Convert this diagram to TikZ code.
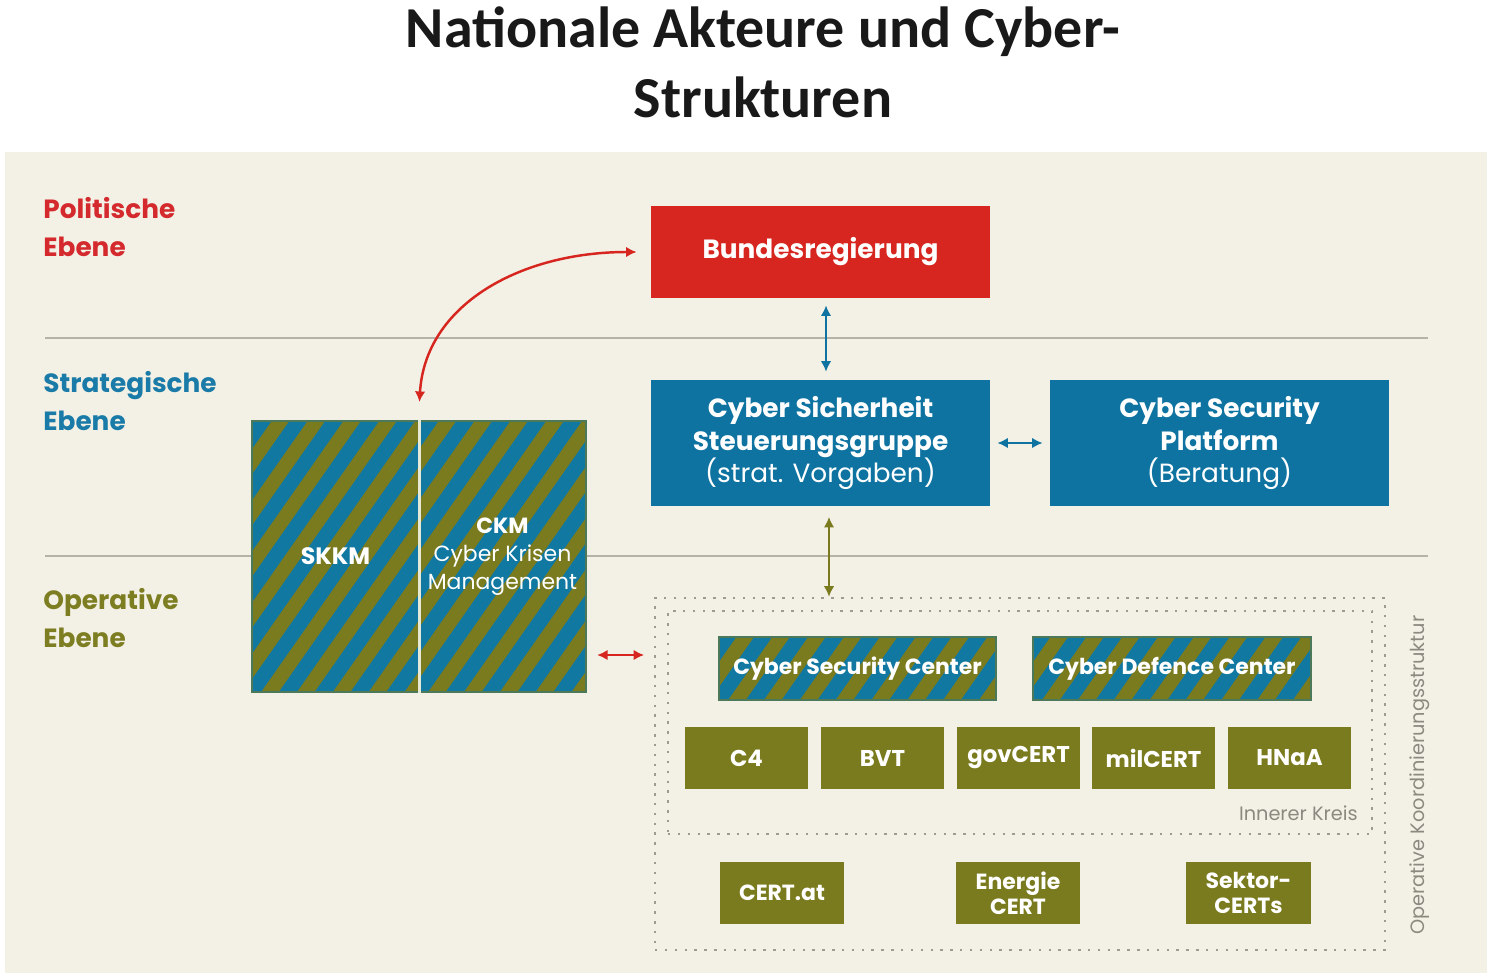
\documentclass[tikz,border=0pt]{standalone}
\usepackage{fontspec}
\setmainfont{Poppins}
\newfontfamily\titlefont{Carlito}
\usetikzlibrary{arrows.meta,calc}
\definecolor{bg}{HTML}{F3F1E5}
\definecolor{cred}{HTML}{D6261F}
\definecolor{cblue}{HTML}{0E73A0}
\definecolor{colive}{HTML}{7A7A1E}
\definecolor{hblue}{HTML}{1178A2}
\definecolor{lgray}{HTML}{B5B2A8}
\definecolor{dgray}{HTML}{8C8980}
\definecolor{dotc}{HTML}{9E9B91}
\definecolor{lred}{HTML}{D42A2E}
\definecolor{lblue}{HTML}{1A7BA8}
\definecolor{lolive}{HTML}{7D7D22}
\definecolor{divc}{HTML}{E6E9D6}
\newcommand\myfs[2]{\fontsize{#1}{#2}\selectfont}
\newcommand\pbox[7]{\node[#1, minimum width={(#5-#3)*0.02cm}, minimum height={(#6-#4)*0.02cm}] (#2) at ({(#3+#5)/2},{(#4+#6)/2}) {#7};}
\begin{document}
\begin{tikzpicture}[x=0.02cm,y=-0.02cm,
  titlet/.style={anchor=base, inner sep=0pt, text=black!90, font=\titlefont\bfseries\myfs{33}{40}},
  lvl/.style={anchor=west, inner sep=0pt, align=left, font=\bfseries\myfs{15}{21.5}},
  box/.style={inner sep=0pt, text=white, align=center},
  hatch/.style={box, fill=colive, draw=colive!55!hblue, line width=0.7pt, path picture={
     \foreach \k in {-10,...,11}{
       \draw[hblue, line width=8.4pt] ($(path picture bounding box.south west)+(\k*20.4pt,0)+(235:30pt)$) -- ++(55:320pt);
     }}},
  dotbox/.style={inner sep=0pt, draw=dotc, line width=1.4pt, dash pattern=on 1.4pt off 4.2pt},
  arr/.style={line width=1.4pt, arrows={Latex[length=6pt,width=6pt]-Latex[length=6pt,width=6pt]}}
]
\useasboundingbox (0,0) rectangle (1487,973);
\fill[white] (0,0) rectangle (1487,973);
\fill[bg] (5,152) rectangle (1487,973);

% title
\node[titlet] (t1) at (763,48) {Nationale Akteure und Cyber-};
\node[titlet] (t2) at (763,118) {Strukturen};

% level lines
\draw[lgray, line width=1.4pt] (45,338) -- (1428,338);
\draw[lgray, line width=1.4pt] (45,556) -- (1428,556);

% level labels
\node[lvl, text=lred] (pol) at (43,227) {Politische\\Ebene};
\node[lvl, text=lblue] (str) at (43,401) {Strategische\\Ebene};
\node[lvl, text=lolive] (ope) at (43,618) {Operative\\Ebene};

% top boxes
\pbox{box, fill=cred, font=\bfseries\myfs{15}{18.7}}{bund}{651}{206}{990}{298}{Bundesregierung}
\pbox{box, fill=cblue, font=\myfs{15}{18.7}}{css}{651}{380}{990}{506}
  {{\bfseries Cyber Sicherheit}\\{\bfseries Steuerungsgruppe}\\(strat. Vorgaben)}
\pbox{box, fill=cblue, font=\myfs{15}{18.7}}{csp}{1050}{380}{1389}{506}
  {{\bfseries Cyber Security}\\{\bfseries Platform}\\(Beratung)}

% SKKM / CKM
\pbox{hatch, font=\bfseries\myfs{13.5}{16}}{skkm}{252}{421}{419}{692}{SKKM}
\pbox{hatch, font=\myfs{12.5}{15.8}}{ckm}{419}{421}{586}{692}{{\bfseries CKM}\\Cyber Krisen\\Management}
\draw[divc, line width=1.3pt] (skkm.north east) -- (skkm.south east);

% coordination structure
\pbox{dotbox}{outer}{655}{598}{1385}{950}{}
\pbox{dotbox}{inner}{668}{611}{1372}{834}{}

\pbox{hatch, font=\bfseries\myfs{12.5}{15}}{csc}{719}{637}{996}{700}{Cyber Security Center}
\pbox{hatch, font=\bfseries\myfs{12.5}{15}}{cdc}{1033}{637}{1311}{700}{Cyber Defence Center}

\pbox{box, fill=colive, font=\bfseries\myfs{13}{15}}{c4}{685}{727}{808}{789}{C4}
\pbox{box, fill=colive, font=\bfseries\myfs{13}{15}}{bvt}{821}{727}{944}{789}{BVT}
\pbox{box, fill=colive, font=\bfseries\myfs{13}{15}}{gov}{957}{727}{1080}{789}{govCERT}
\pbox{box, fill=colive, font=\bfseries\myfs{13}{15}}{mil}{1092}{727}{1215}{789}{milCERT}
\pbox{box, fill=colive, font=\bfseries\myfs{13}{15}}{hnaa}{1228}{727}{1351}{789}{HNaA}

\node[anchor=base east, inner sep=0pt, text=dgray, font=\myfs{11}{13}] (ik) at (1358,820) {Innerer Kreis};

\pbox{box, fill=colive, font=\bfseries\myfs{12.5}{14}}{certat}{720}{862}{844}{924}{CERT.at}
\pbox{box, fill=colive, font=\bfseries\myfs{12.5}{14}}{energie}{956}{862}{1080}{924}{Energie\\CERT}
\pbox{box, fill=colive, font=\bfseries\myfs{12.5}{14}}{sektor}{1186}{862}{1311}{924}{Sektor-\\CERTs}

\node[rotate=90, inner sep=0pt, text=dgray, font=\myfs{11}{13}] (oks) at (1420,775) {Operative Koordinierungsstruktur};

% connectors
\coordinate (rh) at (600,655);
\draw[arr, cblue, shorten <=4pt, shorten >=4.5pt] ([xshift=0.11cm]bund.south) -- ([xshift=0.11cm]css.north);
\draw[arr, cblue, shorten <=4pt, shorten >=4pt] (css.east) -- (csp.west);
\draw[arr, colive, shorten <=6pt] ([xshift=0.17cm]css.south) -- ([xshift=0.17cm]css.south |- outer.north);
\draw[arr, cred, shorten <=6pt, shorten >=5.5pt] (ckm.east |- rh) -- (outer.west |- rh);
\draw[arr, cred, shorten <=10.5pt, shorten >=8pt] (ckm.north west) .. controls (425,305) and (520,252) .. (bund.west);
\end{tikzpicture}
\end{document}
